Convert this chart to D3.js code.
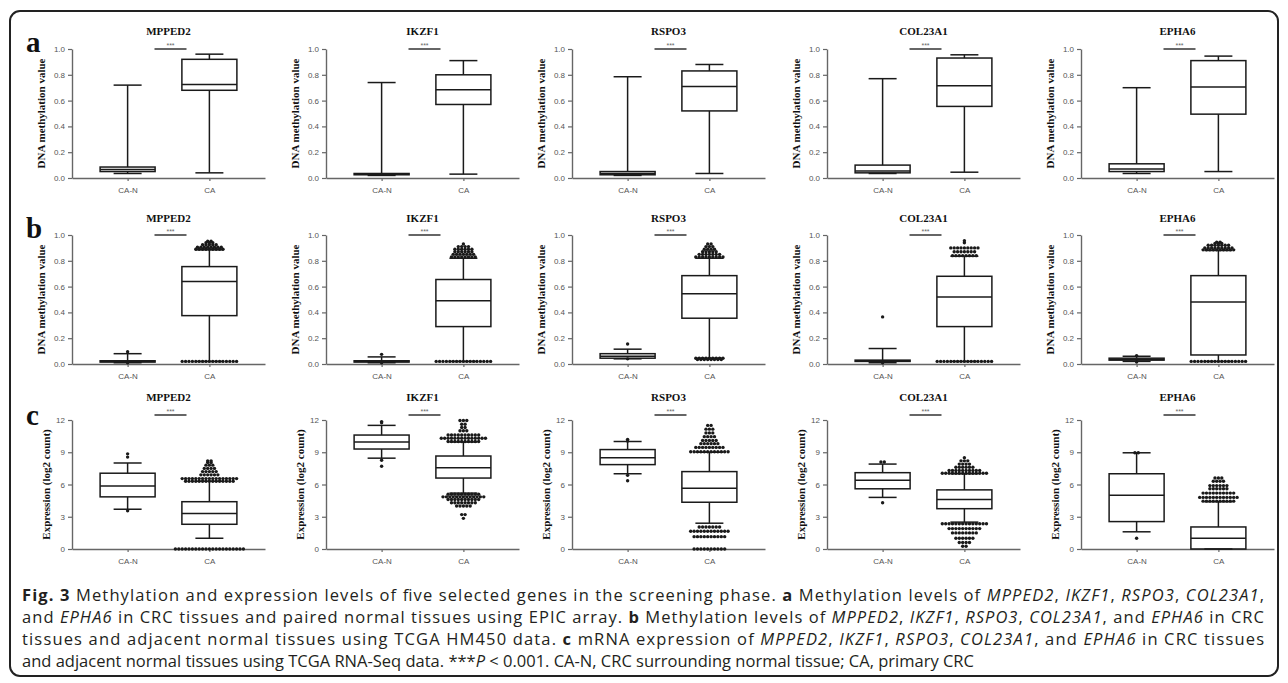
<!DOCTYPE html>
<html>
<head>
<meta charset="utf-8">
<script src="https://cdn.jsdelivr.net/npm/d3@7"></script>
<style>
body{margin:0;background:#fff;}
.serif{font-family:"Liberation Serif","Times New Roman",Times,serif;}
</style>
</head>
<body>
<div class="canvas"></div>
<script>
// genes and groups
const genes = ['MPPED2','IKZF1','RSPO3','COL23A1','EPHA6'];
const groups = ['CA-N','CA'];
const rowLetters = ['a','b','c'];

// box stats per gene: [low whisker, q1, median, q3, high whisker]
// row a - EPIC array methylation
const epicCAN = [[0.035,0.05,0.065,0.085,0.72],[0.02,0.025,0.03,0.035,0.74],[0.02,0.025,0.035,0.05,0.785],[0.035,0.04,0.055,0.10,0.77],[0.035,0.05,0.07,0.11,0.70]];
const epicCA  = [[0.04,0.68,0.725,0.92,0.96],[0.03,0.57,0.685,0.80,0.91],[0.035,0.52,0.71,0.83,0.88],[0.045,0.555,0.715,0.93,0.955],[0.05,0.495,0.705,0.91,0.945]];

// row b - TCGA HM450 methylation
const hmCAN = [[0.01,0.015,0.02,0.025,0.08],[0.01,0.015,0.02,0.025,0.055],[0.04,0.045,0.06,0.08,0.115],[0.01,0.02,0.025,0.03,0.12],[0.02,0.03,0.035,0.045,0.06]];
const hmCA  = [[0.02,0.375,0.64,0.755,0.885],[0.02,0.29,0.49,0.655,0.82],[0.045,0.355,0.545,0.685,0.82],[0.02,0.29,0.52,0.68,0.835],[0.02,0.07,0.48,0.685,0.88]];
// outliers as [value, number of dots]
const hmOutCAN = [[[0.095,1],[0.01,1]],[[0.075,1],[0.01,1]],[[0.155,1],[0.04,1]],[[0.365,1],[0.01,1]],[[0.065,1],[0.015,1]]];
const hmOutCA = [
  [[0.89,9],[0.905,8],[0.925,5],[0.94,3],[0.952,2],[0.02,17]],
  [[0.83,8],[0.85,7],[0.87,6],[0.89,6],[0.91,4],[0.93,1],[0.02,17]],
  [[0.83,9],[0.85,7],[0.87,5],[0.89,4],[0.91,3],[0.93,2],[0.045,9],[0.035,8]],
  [[0.84,8],[0.87,7],[0.90,9],[0.94,1],[0.955,1],[0.02,17]],
  [[0.885,10],[0.90,9],[0.92,7],[0.935,3],[0.945,2],[0.02,17]]
];

// row c - TCGA RNA-Seq expression
const rnaCAN = [[3.7,4.85,5.85,7.05,8.0],[8.45,9.3,9.95,10.6,11.5],[7.0,7.85,8.5,9.25,10.0],[4.8,5.6,6.4,7.1,7.9],[1.6,2.55,5.0,7.0,8.95]];
const rnaCA  = [[1.0,2.3,3.3,4.4,6.3],[5.2,6.6,7.55,8.65,9.95],[2.4,4.35,5.65,7.2,9.0],[2.5,3.75,4.6,5.5,7.0],[0,0,1.0,2.05,4.4]];
const rnaOutCAN = [[[8.85,1],[8.55,1],[3.55,1]],[[11.85,1],[11.75,1],[8.25,1],[7.7,1]],[[10.2,1],[10.05,1],[6.85,1],[6.35,1]],[[8.1,2],[4.3,1]],[[8.95,2],[1.0,1]]];
const rnaOutCA = [
  [[6.3,15],[6.55,17],[6.9,6],[7.2,5],[7.5,4],[7.8,3],[8.05,2],[8.2,2],[0,21]],
  [[10.0,10],[10.3,14],[10.6,10],[11.0,3],[11.3,2],[11.6,2],[11.95,3],[5.1,10],[4.85,13],[4.6,10],[4.3,8],[4.0,5],[3.2,2],[2.85,1]],
  [[9.05,12],[9.45,9],[9.8,6],[10.1,5],[10.45,4],[10.8,3],[11.15,3],[11.5,2],[2.05,7],[1.65,12],[1.15,10],[0,10]],
  [[7.05,14],[7.3,10],[7.6,6],[7.9,4],[8.2,3],[8.5,1],[2.35,14],[1.9,10],[1.5,8],[1.0,6],[0.6,4],[0.25,2]],
  [[4.45,10],[4.8,12],[5.2,10],[5.6,6],[5.9,6],[6.3,4],[6.6,3]]
];

const methTicks = [0,0.2,0.4,0.6,0.8,1.0];
const rnaTicks = [0,3,6,9,12];

const rows = [
  {can: epicCAN, ca: epicCA, outCAN: null, outCA: null, max: 1, ticks: methTicks, fmt: d3.format('.1f'), label: 'DNA methylation value'},
  {can: hmCAN, ca: hmCA, outCAN: hmOutCAN, outCA: hmOutCA, max: 1, ticks: methTicks, fmt: d3.format('.1f'), label: 'DNA methylation value'},
  {can: rnaCAN, ca: rnaCA, outCAN: rnaOutCAN, outCA: rnaOutCA, max: 12, ticks: rnaTicks, fmt: d3.format('d'), label: 'Expression (log2 count)'}
];

const W = 1288, H = 683;
const colX = [72, 326, 572, 827, 1081];
const rowTop = [49, 235, 420];
const pw = 193, ph = 129;
const boxW = 55, capW = 28;
const barOffset = [0, 0, -5];
const titleOffset = [-14, -13, -19];
const labelOffset = [-27, -27, -22];

const svg = d3.select('.canvas').append('svg')
  .attr('width', W).attr('height', H);

// figure frame
svg.append('rect')
  .attr('x', 10).attr('y', 11)
  .attr('width', 1268).attr('height', 665)
  .attr('rx', 10)
  .attr('fill', 'none').attr('stroke', '#222').attr('stroke-width', 2);

const drawBox = (g, x, y, cx, s) => {
  const [lo, q1, med, q3, hi] = s;
  const c = '#1a1a1a';
  g.append('line').attr('x1', cx).attr('x2', cx).attr('y1', y(hi)).attr('y2', y(q3)).attr('stroke', c).attr('stroke-width', 1.5);
  g.append('line').attr('x1', cx).attr('x2', cx).attr('y1', y(q1)).attr('y2', y(lo)).attr('stroke', c).attr('stroke-width', 1.5);
  [lo, hi].forEach(v => {
    g.append('line').attr('x1', cx - capW/2).attr('x2', cx + capW/2).attr('y1', y(v)).attr('y2', y(v)).attr('stroke', c).attr('stroke-width', 1.5);
  });
  g.append('rect').attr('x', cx - boxW/2).attr('width', boxW)
    .attr('y', y(q3)).attr('height', Math.max(y(q1) - y(q3), 0.5))
    .attr('fill', 'none').attr('stroke', c).attr('stroke-width', 1.5);
  g.append('line').attr('x1', cx - boxW/2).attr('x2', cx + boxW/2).attr('y1', y(med)).attr('y2', y(med)).attr('stroke', c).attr('stroke-width', 1.5);
};

const drawOutliers = (g, y, cx, outs) => {
  if (!outs) return;
  outs.forEach(([v, n]) => {
    // simple swarm: spread dots of one row side by side
    d3.range(n).forEach(i => {
      g.append('circle')
        .attr('cx', cx + (i - (n - 1) / 2) * 3.4)
        .attr('cy', y(v))
        .attr('r', 1.7)
        .attr('fill', '#1a1a1a');
    });
  });
};

rows.forEach((row, ri) => {
  // row letter
  svg.append('text')
    .attr('class', 'serif')
    .attr('x', 26).attr('y', rowTop[ri] + (ri === 2 ? 5 : 3))
    .attr('font-weight', 'bold').attr('font-size', 29)
    .attr('fill', '#111')
    .text(rowLetters[ri]);

  genes.forEach((gene, gi) => {
    const g = svg.append('g').attr('transform', `translate(${colX[gi]},${rowTop[ri]})`);
    const y = d3.scaleLinear().domain([0, row.max]).range([ph, 0]);
    const x = d3.scalePoint().domain(groups).range([0, pw]).padding(0.68);

    const yAxis = g.append('g').call(d3.axisLeft(y).tickValues(row.ticks).tickFormat(row.fmt).tickSize(4).tickSizeOuter(0));
    const xAxis = g.append('g').attr('transform', `translate(0,${ph})`)
      .call(d3.axisBottom(x).tickSize(3).tickSizeOuter(0));
    [yAxis, xAxis].forEach(a => {
      a.select('.domain').attr('stroke', '#666').attr('stroke-width', 1.4);
      a.selectAll('.tick line').attr('stroke', '#666').attr('stroke-width', 1.2);
      a.selectAll('.tick text').attr('font-family', 'Liberation Sans, Arial, sans-serif')
        .attr('font-size', 8).attr('fill', '#555');
    });
    xAxis.selectAll('.tick text').attr('dy', '1.1em');

    // boxes
    drawBox(g, x, y, x('CA-N'), row.can[gi]);
    drawBox(g, x, y, x('CA'), row.ca[gi]);
    drawOutliers(g, y, x('CA-N'), row.outCAN && row.outCAN[gi]);
    drawOutliers(g, y, x('CA'), row.outCA && row.outCA[gi]);

    // significance bar
    const mid = (x('CA-N') + x('CA')) / 2 + 2;
    const by = y(row.max) + barOffset[ri];
    g.append('line').attr('x1', mid - 16).attr('x2', mid + 16).attr('y1', by).attr('y2', by)
      .attr('stroke', '#333').attr('stroke-width', 1.5);
    g.append('text').attr('x', mid).attr('y', by - 1.5)
      .attr('text-anchor', 'middle')
      .attr('font-family', 'Liberation Sans, Arial, sans-serif')
      .attr('font-size', 7).attr('fill', '#666')
      .text('***');

    // title
    g.append('text').attr('class', 'serif')
      .attr('x', pw / 2).attr('y', titleOffset[ri])
      .attr('text-anchor', 'middle')
      .attr('font-weight', 'bold').attr('font-size', 11)
      .attr('fill', '#111')
      .text(gene);

    // y label
    g.append('text').attr('class', 'serif')
      .attr('transform', `translate(${labelOffset[ri]},${ph / 2}) rotate(-90)`)
      .attr('text-anchor', 'middle')
      .attr('font-weight', 'bold').attr('font-size', 11)
      .attr('fill', '#111')
      .text(row.label);
  });
});

// caption: each line is a list of [text, style]
const capLines = [
  [['Fig. 3', 'b'], [' Methylation and expression levels of five selected genes in the screening phase. ', ''], ['a', 'b'], [' Methylation levels of ', ''], ['MPPED2', 'i'], [', ', ''], ['IKZF1', 'i'], [', ', ''], ['RSPO3', 'i'], [', ', ''], ['COL23A1', 'i'], [',', '']],
  [['and ', ''], ['EPHA6', 'i'], [' in CRC tissues and paired normal tissues using EPIC array. ', ''], ['b', 'b'], [' Methylation levels of ', ''], ['MPPED2', 'i'], [', ', ''], ['IKZF1', 'i'], [', ', ''], ['RSPO3', 'i'], [', ', ''], ['COL23A1', 'i'], [', and ', ''], ['EPHA6', 'i'], [' in CRC', '']],
  [['tissues and adjacent normal tissues using TCGA HM450 data. ', ''], ['c', 'b'], [' mRNA expression of ', ''], ['MPPED2', 'i'], [', ', ''], ['IKZF1', 'i'], [', ', ''], ['RSPO3', 'i'], [', ', ''], ['COL23A1', 'i'], [', and ', ''], ['EPHA6', 'i'], [' in CRC tissues', '']],
  [['and adjacent normal tissues using TCGA RNA-Seq data. ***', ''], ['P', 'i'], [' < 0.001. CA-N, CRC surrounding normal tissue; CA, primary CRC', '']]
];
const capWidths = [1242, 1242, 1242, null];

capLines.forEach((line, li) => {
  const t = svg.append('text')
    .attr('x', 22).attr('y', 601 + li * 22)
    .attr('font-family', 'Open Sans, sans-serif')
    .attr('font-size', 16.5)
    .attr('fill', '#231f20')
    .style('white-space', 'pre');
  if (capWidths[li]) t.attr('textLength', capWidths[li]).attr('lengthAdjust', 'spacing');
  line.forEach(([s, st]) => {
    t.append('tspan')
      .attr('font-weight', st === 'b' ? 'bold' : null)
      .attr('font-style', st === 'i' ? 'italic' : null)
      .text(s);
  });
});
</script>
</body>
</html>
